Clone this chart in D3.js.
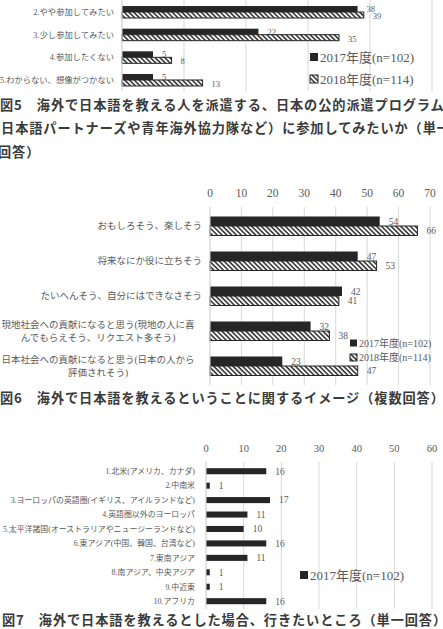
<!DOCTYPE html>
<meta charset="utf-8">
<style>
body { margin: 0; background: #fff; }
svg { display: block; }
.lbl { font-family: "Liberation Serif", "DejaVu Serif", "Noto Sans CJK JP", serif; fill: #595959; }
.cap { font-family: "Noto Sans CJK JP", sans-serif; font-weight: bold; fill: #3a3a3a; }
.grid line { stroke: #d9d9d9; stroke-width: 1; }
</style>
<body></body>
<script src="https://cdn.jsdelivr.net/npm/d3@7"></script>
<script>

// 図5 (top part cut off in the source)
var q5Cats = ["2.やや参加してみたい", "3.少し参加してみたい", "4.参加したくない", "5.わからない、想像がつかない"];
var q5Y2017 = [38, 22, 5, 5];
var q5Y2018 = [39, 35, 8, 13];
var q5Ticks = [0, 10, 20, 30, 40, 50];

// 図6
var q6Cats = ["おもしろそう、楽しそう", "将来なにか役に立ちそう", "たいへんそう、自分にはできなさそう",
  "現地社会への貢献になると思う(現地の人に喜|んでもらえそう、リクエスト多そう)",
  "日本社会への貢献になると思う(日本の人から|評価されそう)"];
var q6Y2017 = [54, 47, 42, 32, 23];
var q6Y2018 = [66, 53, 41, 38, 47];
var q6Ticks = [0, 10, 20, 30, 40, 50, 60, 70];

// 図7
var q7Cats = ["1.北米(アメリカ、カナダ)", "2.中南米", "3.ヨーロッパの英語圏(イギリス、アイルランドなど)",
  "4.英語圏以外のヨーロッパ", "5.太平洋諸国(オーストラリアやニュージーランドなど)",
  "6.東アジア(中国、韓国、台湾など)", "7.東南アジア", "8.南アジア、中央アジア", "9.中近東", "10.アフリカ"];
var q7Y2017 = [16, 1, 17, 11, 10, 16, 11, 1, 1, 16];
var q7Ticks = [0, 10, 20, 30, 40, 50, 60];

var seriesNames = ["2017年度(n=102)", "2018年度(n=114)"];

var svg = d3.select("body").append("svg")
  .attr("width", 443)
  .attr("height", 629);

var defs = svg.append("defs");
var pat = defs.append("pattern")
  .attr("id", "hatch")
  .attr("patternUnits", "userSpaceOnUse")
  .attr("width", 3.4)
  .attr("height", 3.4)
  .attr("patternTransform", "rotate(-45)");
pat.append("rect").attr("width", 3.4).attr("height", 3.4).attr("fill", "#fff");
pat.append("line").attr("x1", 1).attr("y1", 0).attr("x2", 1).attr("y2", 3.4)
  .attr("stroke", "#262626").attr("stroke-width", 1.5);

function fillFor(i) { return i == 0 ? "#262626" : "url(#hatch)"; }

// generic horizontal grouped bar chart
function barChart(o) {
  var g = svg.append("g");
  var x = d3.scaleLinear().domain(o.domain).range(o.xRange);
  var y = d3.scaleBand().domain(o.cats).range(o.yRange)
    .paddingInner(o.pad).paddingOuter(o.pad / 2);
  var sub = d3.scaleBand().domain(d3.range(o.series.length)).range([0, y.bandwidth()]);

  g.append("g").attr("class", "grid")
    .selectAll("line").data(o.ticks).enter().append("line")
    .attr("x1", function(d) { return x(d); })
    .attr("x2", function(d) { return x(d); })
    .attr("y1", o.gridY[0]).attr("y2", o.gridY[1]);

  if (o.tickY != null) {
    g.selectAll(".tick").data(o.ticks).enter().append("text")
      .attr("class", "lbl")
      .attr("x", function(d) { return x(d); })
      .attr("y", o.tickY)
      .attr("dy", "0.35em")
      .attr("text-anchor", "middle")
      .style("font-size", o.tickSize + "px")
      .text(function(d) { return d; });
  }

  // category labels
  o.cats.forEach(function(c) {
    var parts = c.split("|");
    var t = g.append("text").attr("class", "lbl")
      .style("font-size", o.catSize + "px");
    var cy = y(c) + y.bandwidth() / 2;
    if (parts.length == 1) {
      t.attr("x", o.catX).attr("y", cy).attr("dy", "0.35em")
        .attr("text-anchor", "end").text(c);
    } else {
      t.attr("text-anchor", "middle");
      parts.forEach(function(p, k) {
        t.append("tspan").attr("x", o.wrapX)
          .attr("y", cy + (k - (parts.length - 1) / 2) * o.catSize * 1.35)
          .attr("dy", "0.35em").text(p);
      });
    }
  });

  o.series.forEach(function(vals, si) {
    g.selectAll(".bar" + si).data(vals).enter().append("rect")
      .attr("x", x(0))
      .attr("y", function(d, i) { return y(o.cats[i]) + sub(si); })
      .attr("width", function(d) { return x(d) - x(0); })
      .attr("height", sub.bandwidth())
      .attr("fill", fillFor(si))
      .attr("stroke", si == 0 ? "none" : "#262626")
      .attr("stroke-width", 1);

    g.selectAll(".val" + si).data(vals).enter().append("text")
      .attr("class", "lbl")
      .attr("x", function(d) { return x(d) + o.valGap; })
      .attr("y", function(d, i) { return y(o.cats[i]) + sub(si) + sub.bandwidth() / 2 + (o.valShift ? o.valShift[si] : 0); })
      .attr("dy", "0.35em")
      .style("font-size", o.valSize + "px")
      .text(function(d) { return d; });
  });

  g.append("line")
    .attr("x1", x(0)).attr("x2", x(0))
    .attr("y1", o.gridY[0]).attr("y2", o.gridY[1])
    .attr("stroke", "#d9d9d9");

  // legend
  o.series.forEach(function(vals, si) {
    var ly = o.legend.y + si * o.legend.dy;
    var s = o.legend.size;
    g.append("rect")
      .attr("x", o.legend.x).attr("y", ly - s / 2)
      .attr("width", s).attr("height", s)
      .attr("fill", fillFor(si))
      .attr("stroke", si == 0 ? "none" : "#262626");
    g.append("text").attr("class", "lbl")
      .attr("x", o.legend.x + s + 2).attr("y", ly).attr("dy", "0.35em")
      .style("font-size", o.legend.font + "px")
      .text(seriesNames[si]);
  });
}

barChart({
  cats: q5Cats, series: [q5Y2017, q5Y2018], domain: [0, 50], ticks: q5Ticks,
  xRange: [122, 432], yRange: [0.7, 91.3], pad: 0.47, gridY: [0, 91],
  tickY: null, catX: 114, catSize: 8.3, valGap: 9, valSize: 8.5, valShift: [0, 1],
  legend: { x: 310, y: 57, dy: 22, size: 8, font: 13 }
});

barChart({
  cats: q6Cats, series: [q6Y2017, q6Y2018], domain: [0, 70], ticks: q6Ticks,
  xRange: [210, 430], yRange: [208.5, 383.5], pad: 0.457, gridY: [207, 385],
  tickY: 193, tickSize: 11.5, catX: 202, wrapX: 98, catSize: 9.5, valGap: 9, valSize: 9.5,
  legend: { x: 350, y: 343, dy: 14.5, size: 7, font: 10 }
});

barChart({
  cats: q7Cats, series: [q7Y2017], domain: [0, 60], ticks: q7Ticks,
  xRange: [206, 432], yRange: [464, 608.4], pad: 0.58, gridY: [462, 609],
  tickY: 448, tickSize: 10.5, catX: 195, catSize: 7.9, valGap: 9, valSize: 9.5,
  legend: { x: 300, y: 575, dy: 0, size: 8, font: 13 }
});

// captions
var captions = [
  { x: 0, y: 105, t: "図5　海外で日本語を教える人を派遣する、日本の公的派遣プログラム" },
  { x: -13, y: 128, t: "（日本語パートナーズや青年海外協力隊など）に参加してみたいか（単一" },
  { x: -2, y: 152, t: "回答）" },
  { x: 0, y: 398, t: "図6　海外で日本語を教えるということに関するイメージ（複数回答）" },
  { x: 2, y: 620, t: "図7　海外で日本語を教えるとした場合、行きたいところ（単一回答）" }
];
svg.selectAll(".cap").data(captions).enter().append("text")
  .attr("class", "cap")
  .attr("x", function(d) { return d.x; })
  .attr("y", function(d) { return d.y; })
  .attr("dy", "0.35em")
  .style("font-size", "13.2px")
  .style("letter-spacing", "0.9px")
  .text(function(d) { return d.t; });

</script>
